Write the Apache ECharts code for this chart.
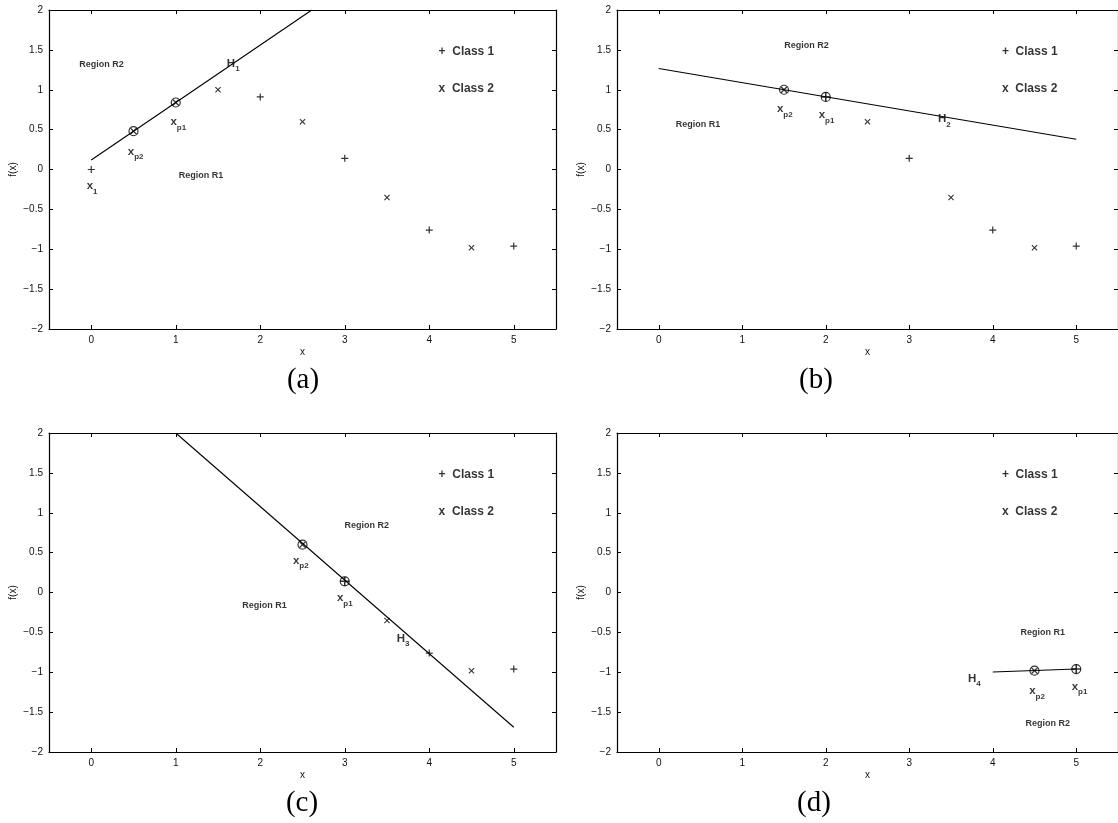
<!DOCTYPE html>
<html>
<head>
<meta charset="utf-8">
<script src="https://cdn.jsdelivr.net/npm/echarts@6/dist/echarts.min.js"></script>
<style>
  html, body { margin: 0; padding: 0; background: #fff; }
  #chart { width: 1118px; height: 823px; }
</style>
</head>
<body>
<div id="chart"></div>
<script>
// Sampled points f(x) and their class (1 = "+", 2 = "x")
const sampleX = [0, 0.5, 1, 1.5, 2, 2.5, 3, 3.5, 4, 4.5, 5];
const sampleY = [0, 0.48, 0.84, 1.0, 0.91, 0.6, 0.14, -0.35, -0.76, -0.98, -0.96];
const sampleClass = [1, 2, 2, 2, 1, 2, 1, 2, 1, 2, 1];

// Per step: first sample still in play, and the two prototype samples
const firstShown = [0, 3, 5, 9];
const protoP1 = [2, 4, 6, 10];
const protoP2 = [1, 3, 5, 9];

// Separating line H_k of each step, given by its two end points
const lineX = [[0, 2.61], [0, 5], [1, 5], [4, 5]];
const lineY = [[0.12, 2.0], [1.266, 0.38], [2.0, -1.69], [-0.997, -0.959]];

// Axis ticks
const xTicks = [0, 1, 2, 3, 4, 5];
const yMin = -2, yMax = 2, yStep = 0.5;
const xMin = -0.5, xMax = 5.5;

// Text placed in data coordinates
const panelTags = ['(a)', '(b)', '(c)', '(d)'];
const hyperIndex = ['1', '2', '3', '4'];
const regionR1Pos = [[1.30, -0.08], [0.47, 0.56], [2.05, -0.16], [4.60, -0.50]];
const regionR2Pos = [[0.12, 1.32], [1.77, 1.556], [3.26, 0.845], [4.66, -1.64]];
const hyperLabelPos = [[1.68, 1.33], [3.42, 0.63], [3.69, -0.58], [3.78, -1.08]];
const p1LabelPos = [[1.03, 0.595], [2.01, 0.68], [3.0, -0.07], [5.04, -1.18]];
const p2LabelPos = [[0.525, 0.226], [1.51, 0.76], [2.48, 0.40], [4.53, -1.235]];
const firstLabelPos = [0.01, -0.205];
const legendText = ['+  Class 1', 'x  Class 2'];
const legendPos = [[4.11, 1.475], [4.11, 1.015]];

// Panel placement (pixels)
const gridLeft = [49, 617, 49, 617];
const gridTop = [10, 10, 433, 433];
const gridW = 507, gridH = 319;
const tagPos = [[303, 380], [816, 380], [302, 803], [814, 803]];

const SANS = '"Liberation Sans", Arial, Helvetica, sans-serif';
const plusPath = 'path://M29,0H41V29H70V41H41V70H29V41H0V29H29Z';
const crossPath = 'path://M0,9L9,0L35,26L61,0L70,9L44,35L70,61L61,70L35,44L9,70L0,61L26,35Z';

const fmtY = v => (v < 0 ? '\u2212' + (-v) : String(v));

const grids = [], xAxes = [], yAxes = [], series = [];

const richStyles = {
  reg: { fontFamily: SANS, fontSize: 9, fontWeight: 'bold', color: '#000' },
  m: { fontFamily: SANS, fontSize: 11.5, fontWeight: 'bold', color: '#000' },
  s: { fontFamily: SANS, fontSize: 8, fontWeight: 'bold', color: '#000', padding: [11, 0, 0, 0] },
  h: { fontFamily: SANS, fontSize: 11.5, fontWeight: 'bold', color: '#000' },
  leg: { fontFamily: SANS, fontSize: 12, fontWeight: 'bold', color: '#000' }
};

function textItem(pos, formatter, align) {
  return {
    value: pos,
    label: { formatter: formatter, align: align || 'center' }
  };
}

function markerSeries(xi, yi, pts, cls, size) {
  return {
    type: 'scatter', xAxisIndex: xi, yAxisIndex: yi, data: pts,
    symbol: cls === 1 ? plusPath : crossPath, symbolSize: size, silent: true,
    itemStyle: { color: '#000' }
  };
}

for (let p = 0; p < 4; p++) {
  grids.push({
    left: gridLeft[p], top: gridTop[p], width: gridW, height: gridH,
    show: false, containLabel: false
  });

  const lineSty = { color: '#000', width: 1.2 };
  const tickStyle = { show: true, inside: true, length: 4, customValues: xTicks, lineStyle: { color: '#000', width: 1 } };
  xAxes.push({
    gridIndex: p, type: 'value', min: xMin, max: xMax, position: 'bottom',
    axisLine: { show: true, onZero: false, lineStyle: lineSty },
    axisTick: tickStyle,
    axisLabel: { customValues: xTicks, color: '#111', fontSize: 10, fontFamily: SANS, margin: 6 },
    splitLine: { show: false },
    name: 'x', nameLocation: 'middle', nameGap: 18,
    nameTextStyle: { color: '#111', fontSize: 10, fontFamily: SANS }
  });
  xAxes.push({
    gridIndex: p, type: 'value', min: xMin, max: xMax, position: 'top',
    axisLine: { show: true, onZero: false, lineStyle: lineSty },
    axisTick: tickStyle,
    axisLabel: { show: false },
    splitLine: { show: false }
  });
  const yTick = { show: true, inside: true, length: 4, lineStyle: { color: '#000', width: 1 } };
  yAxes.push({
    gridIndex: p, type: 'value', min: yMin, max: yMax, interval: yStep, position: 'left',
    axisLine: { show: true, onZero: false, lineStyle: lineSty },
    axisTick: yTick,
    axisLabel: { formatter: fmtY, color: '#111', fontSize: 10, fontFamily: SANS, margin: 6 },
    splitLine: { show: false },
    name: 'f(x)', nameLocation: 'middle', nameGap: 31, nameRotate: 90,
    nameTextStyle: { color: '#111', fontSize: 10, fontFamily: SANS }
  });
  yAxes.push({
    gridIndex: p, type: 'value', min: yMin, max: yMax, interval: yStep, position: 'right',
    axisLine: { show: true, onZero: false, lineStyle: lineSty },
    axisTick: yTick,
    axisLabel: { show: false },
    splitLine: { show: false }
  });

  const xi = p * 2, yi = p * 2;

  // separating line H_k
  series.push({
    type: 'line', xAxisIndex: xi, yAxisIndex: yi,
    data: [[lineX[p][0], lineY[p][0]], [lineX[p][1], lineY[p][1]]],
    symbol: 'none', clip: true, silent: true,
    lineStyle: { color: '#000', width: 1.1 }
  });

  // samples of each class still in play (prototypes drawn separately)
  const c1 = [], c2 = [], k1 = [], k2 = [];
  for (let i = firstShown[p]; i < sampleX.length; i++) {
    const pt = [sampleX[i], sampleY[i]];
    const isProto = i === protoP1[p] || i === protoP2[p];
    if (sampleClass[i] === 1) (isProto ? k1 : c1).push(pt);
    else (isProto ? k2 : c2).push(pt);
  }
  series.push(markerSeries(xi, yi, c1, 1, 7));
  series.push(markerSeries(xi, yi, c2, 2, 6));
  series.push(markerSeries(xi, yi, k1, 1, 9));
  series.push(markerSeries(xi, yi, k2, 2, 7));

  // prototypes, ringed
  series.push({
    type: 'scatter', xAxisIndex: xi, yAxisIndex: yi,
    data: [[sampleX[protoP1[p]], sampleY[protoP1[p]]], [sampleX[protoP2[p]], sampleY[protoP2[p]]]],
    symbol: 'circle', symbolSize: 9, silent: true,
    itemStyle: { color: 'rgba(0,0,0,0)', borderColor: '#000', borderWidth: 1.2 }
  });

  // annotations
  const notes = [
    textItem(regionR1Pos[p], '{reg|Region R1}'),
    textItem(regionR2Pos[p], '{reg|Region R2}'),
    textItem(hyperLabelPos[p], '{h|H}{s|' + hyperIndex[p] + '}'),
    textItem(p1LabelPos[p], '{m|x}{s|p1}'),
    textItem(p2LabelPos[p], '{m|x}{s|p2}'),
    textItem(legendPos[0], '{leg|' + legendText[0] + '}', 'left'),
    textItem(legendPos[1], '{leg|' + legendText[1] + '}', 'left')
  ];
  if (p === 0) notes.push(textItem(firstLabelPos, '{m|x}{s|1}'));
  series.push({
    type: 'scatter', xAxisIndex: xi, yAxisIndex: yi, data: notes,
    symbolSize: 1, silent: true, clip: false,
    itemStyle: { color: 'rgba(0,0,0,0)' },
    label: { show: true, position: 'inside', verticalAlign: 'middle', rich: richStyles }
  });
}

const graphics = panelTags.map((t, i) => ({
  type: 'text', x: tagPos[i][0], y: tagPos[i][1], silent: true,
  style: {
    text: t, fill: '#000', font: '29px "Liberation Serif", "DejaVu Serif", serif',
    textAlign: 'center', textVerticalAlign: 'middle'
  }
}));

const chart = echarts.init(document.getElementById('chart'), null, { renderer: 'canvas' });
chart.setOption({
  backgroundColor: '#fff',
  animation: false,
  grid: grids,
  xAxis: xAxes,
  yAxis: yAxes,
  series: series,
  graphic: graphics
});
</script>
</body>
</html>
